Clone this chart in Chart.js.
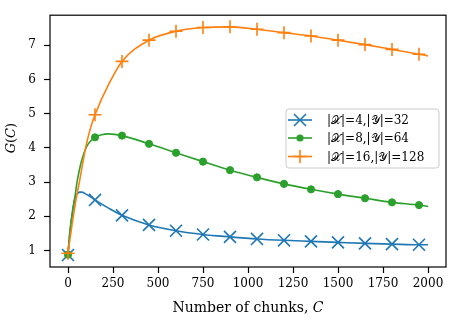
<!DOCTYPE html>
<html>
<head>
<meta charset="utf-8">
<script src="https://cdn.jsdelivr.net/npm/chart.js@4/dist/chart.umd.min.js"></script>
<style>
  html, body { margin: 0; padding: 0; background: #fff; }
  #wrap { width: 458px; height: 320px; }
</style>
</head>
<body>
<div id="wrap"><canvas id="c" width="458" height="320"></canvas></div>
<script>
// ---- data ----
const chunks = [0, 10, 25, 40, 50, 65, 75, 100, 125, 150, 225, 300, 450, 600, 750, 900, 1050, 1200, 1350, 1500, 1650, 1800, 1950, 2000];
const gainX4Y32  = [0.87, 1.50, 2.12, 2.55, 2.65, 2.71, 2.71, 2.65, 2.57, 2.48, 2.24, 2.03, 1.75, 1.58, 1.47, 1.40, 1.34, 1.30, 1.27, 1.24, 1.21, 1.19, 1.17, 1.17];
const gainX8Y64  = [0.88, 1.52, 2.15, 2.62, 3.00, 3.40, 3.62, 4.00, 4.20, 4.31, 4.41, 4.36, 4.12, 3.86, 3.60, 3.35, 3.14, 2.95, 2.79, 2.65, 2.53, 2.41, 2.33, 2.29];
const gainX16Y128 = [0.92, 1.30, 1.85, 2.35, 2.65, 3.05, 3.35, 4.06, 4.58, 4.97, 5.85, 6.53, 7.15, 7.41, 7.52, 7.54, 7.47, 7.37, 7.27, 7.15, 7.02, 6.88, 6.74, 6.69];
const markerChunks = [0, 150, 300, 450, 600, 750, 900, 1050, 1200, 1350, 1500, 1650, 1800, 1950];
const seriesLabels = ['|\u{1D4B3}|=4,|\u{1D4B4}|=32', '|\u{1D4B3}|=8,|\u{1D4B4}|=64', '|\u{1D4B3}|=16,|\u{1D4B4}|=128'];
const xTickValues = [0, 250, 500, 750, 1000, 1250, 1500, 1750, 2000];
const yTickValues = [1, 2, 3, 4, 5, 6, 7];

const BLUE = '#1f77b4', GREEN = '#2ca02c', ORANGE = '#ff7f0e';
const FONT = "'DejaVu Serif', 'Liberation Serif', serif";

function pts(vals) { return chunks.map((x, i) => ({ x: x, y: vals[i] })); }
function markerRadius(r) {
  return ctx => (ctx.raw && markerChunks.includes(ctx.raw.x)) ? r : 0;
}

const styles = [
  { color: BLUE, style: 'crossRot', r: 8.5, data: gainX4Y32 },
  { color: GREEN, style: 'circle', r: 3.6, data: gainX8Y64 },
  { color: ORANGE, style: 'cross', r: 6.5, data: gainX16Y128 }
];

const datasets = styles.map((s, i) => ({
  label: seriesLabels[i],
  data: pts(s.data),
  borderColor: s.color,
  backgroundColor: s.color,
  borderWidth: 1.6,
  pointStyle: s.style,
  pointRadius: markerRadius(s.r),
  pointHoverRadius: markerRadius(s.r),
  pointBorderWidth: s.style === 'circle' ? 1 : 1.6,
  pointBorderColor: s.color,
  pointBackgroundColor: s.color,
  cubicInterpolationMode: 'monotone',
  fill: false,
  order: 2 - i
}));

function drawMarker(ctx, style, x, y, r, color) {
  ctx.save();
  ctx.strokeStyle = color; ctx.fillStyle = color; ctx.lineWidth = 1.6;
  ctx.beginPath();
  if (style === 'circle') {
    ctx.arc(x, y, r, 0, Math.PI * 2); ctx.fill();
  } else if (style === 'cross') {
    ctx.moveTo(x - r, y); ctx.lineTo(x + r, y);
    ctx.moveTo(x, y - r); ctx.lineTo(x, y + r); ctx.stroke();
  } else {
    const d = r * Math.SQRT1_2;
    ctx.moveTo(x - d, y - d); ctx.lineTo(x + d, y + d);
    ctx.moveTo(x - d, y + d); ctx.lineTo(x + d, y - d); ctx.stroke();
  }
  ctx.restore();
}

const decor = {
  id: 'decor',
  afterDraw(chart) {
    const ctx = chart.ctx;
    const a = chart.chartArea;
    ctx.save();
    // frame
    ctx.strokeStyle = '#000';
    ctx.lineWidth = 1.2;
    ctx.strokeRect(a.left, a.top, a.right - a.left, a.bottom - a.top);

    // x axis label
    ctx.fillStyle = '#000';
    ctx.textBaseline = 'alphabetic';
    const part1 = 'Number of chunks, ', part2 = 'C';
    ctx.font = '14px ' + FONT;
    const w1 = ctx.measureText(part1).width;
    ctx.font = 'italic 14px ' + FONT;
    const w2 = ctx.measureText(part2).width;
    let sx = (a.left + a.right) / 2 - (w1 + w2) / 2;
    ctx.font = '14px ' + FONT;
    ctx.fillText(part1, sx, 312);
    ctx.font = 'italic 14px ' + FONT;
    ctx.fillText(part2, sx + w1, 312);

    // y axis label
    ctx.save();
    ctx.translate(15, (a.top + a.bottom) / 2 - 3);
    ctx.rotate(-Math.PI / 2);
    const parts = [['G', true], ['(', false], ['C', true], [')', false]];
    let tw = 0;
    const ws = parts.map(p => { ctx.font = (p[1] ? 'italic ' : '') + '13px ' + FONT; const w = ctx.measureText(p[0]).width; tw += w; return w; });
    let px = -tw / 2;
    parts.forEach((p, i) => { ctx.font = (p[1] ? 'italic ' : '') + '13px ' + FONT; ctx.fillText(p[0], px, 0); px += ws[i]; });
    ctx.restore();

    // legend
    const lx = 286, ly = 109, lw = 153, lh = 59;
    ctx.beginPath();
    if (ctx.roundRect) ctx.roundRect(lx, ly, lw, lh, 3); else ctx.rect(lx, ly, lw, lh);
    ctx.fillStyle = 'rgba(255,255,255,0.8)';
    ctx.fill();
    ctx.strokeStyle = '#cccccc';
    ctx.lineWidth = 1;
    ctx.stroke();
    const rows = [120, 138, 156.5];
    ctx.textBaseline = 'middle';
    styles.forEach((s, i) => {
      const y = rows[i];
      ctx.strokeStyle = s.color; ctx.lineWidth = 1.6;
      ctx.beginPath(); ctx.moveTo(288, y); ctx.lineTo(312, y); ctx.stroke();
      drawMarker(ctx, s.style, 300, y, s.r, s.color);
      ctx.fillStyle = '#000';
      ctx.font = '12px ' + FONT;
      ctx.fillText(seriesLabels[i], 327, y + 1);
    });
    ctx.restore();
  }
};

new Chart(document.getElementById('c'), {
  type: 'line',
  data: { datasets: datasets },
  options: {
    responsive: false,
    animation: false,
    events: [],
    layout: { padding: { left: 0, top: 12, right: 12, bottom: 0 } },
    plugins: { legend: { display: false }, tooltip: { enabled: false } },
    scales: {
      x: {
        type: 'linear', min: -100, max: 2100,
        afterBuildTicks: s => { s.ticks = xTickValues.map(v => ({ value: v })); },
        afterFit: s => { s.height = 53; },
        grid: { drawOnChartArea: false, drawTicks: true, tickLength: 6, tickColor: '#000', tickWidth: 1.2 },
        border: { display: false },
        ticks: { color: '#000', font: { family: FONT, size: 12 }, padding: 4, maxRotation: 0, autoSkip: false,
                 callback: v => String(v) }
      },
      y: {
        type: 'linear', min: 0.52, max: 7.88,
        afterBuildTicks: s => { s.ticks = yTickValues.map(v => ({ value: v })); },
        afterFit: s => { s.width = 50; },
        grid: { drawOnChartArea: false, drawTicks: true, tickLength: 6, tickColor: '#000', tickWidth: 1.2 },
        border: { display: false },
        ticks: { color: '#000', font: { family: FONT, size: 12 }, padding: 8, callback: v => String(v) }
      }
    }
  },
  plugins: [decor]
});
</script>
</body>
</html>
